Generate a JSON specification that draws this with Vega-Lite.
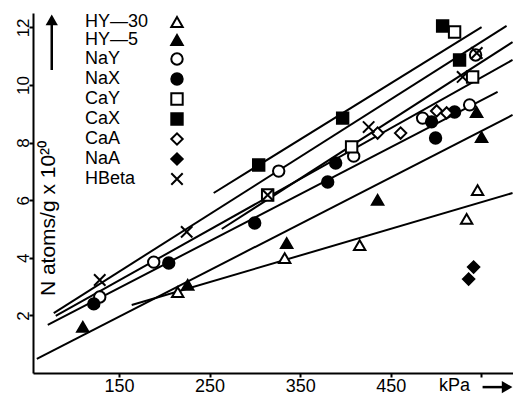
{
  "$schema": "https://vega.github.io/schema/vega-lite/v6.json",
  "width": 480,
  "height": 360,
  "autosize": {"type": "none"},
  "padding": {"left": 33, "top": 13, "right": 0, "bottom": 21},
  "config": {
    "view": {"stroke": null},
    "font": "Liberation Sans",
    "axisX": {
      "grid": false,
      "domainColor": "black",
      "domainWidth": 2,
      "tickColor": "black",
      "tickWidth": 2,
      "tickSize": 4,
      "labelFontSize": 18,
      "labelColor": "black",
      "labelPadding": 0,
      "labelFlush": false
    },
    "axisY": {
      "grid": false,
      "domainColor": "black",
      "domainWidth": 2,
      "tickColor": "black",
      "tickWidth": 2,
      "tickSize": 4,
      "labelFontSize": 17,
      "labelColor": "black",
      "labelAngle": 270,
      "labelAlign": "center",
      "labelBaseline": "alphabetic",
      "labelPadding": 1,
      "labelFlush": false,
      "titleFontSize": 21,
      "titleFontWeight": "normal",
      "titleColor": "black",
      "titleAngle": 270,
      "titleX": 15,
      "titleY": 205,
      "titleAlign": "center",
      "titleBaseline": "middle"
    },
    "legend": {
      "orient": "none",
      "legendX": 135,
      "legendY": 0,
      "title": null,
      "labelFont": "Liberation Sans",
      "labelFontSize": 18,
      "labelColor": "black",
      "labelAlign": "left",
      "labelOffset": -101,
      "symbolSize": 130,
      "symbolStrokeWidth": 2,
      "rowPadding": 0,
      "padding": 0
    }
  },
  "datasets": {
    "points": [
      {"series": "HY—30", "x": 214.8, "y": 2.81},
      {"series": "HY—30", "x": 332.9, "y": 3.99},
      {"series": "HY—30", "x": 415.7, "y": 4.44},
      {"series": "HY—30", "x": 533.8, "y": 5.35},
      {"series": "HY—30", "x": 545.9, "y": 6.35},
      {"series": "HY—5", "x": 110.0, "y": 1.6},
      {"series": "HY—5", "x": 225.8, "y": 3.06},
      {"series": "HY—5", "x": 335.1, "y": 4.51},
      {"series": "HY—5", "x": 435.5, "y": 6.01},
      {"series": "HY—5", "x": 550.3, "y": 8.19},
      {"series": "HY—5", "x": 544.8, "y": 9.06},
      {"series": "NaY", "x": 128.7, "y": 2.64},
      {"series": "NaY", "x": 188.3, "y": 3.85},
      {"series": "NaY", "x": 326.3, "y": 7.01},
      {"series": "NaY", "x": 409.1, "y": 7.53},
      {"series": "NaY", "x": 485.2, "y": 8.85},
      {"series": "NaY", "x": 537.1, "y": 9.31},
      {"series": "NaY", "x": 543.7, "y": 11.04},
      {"series": "NaX", "x": 122.1, "y": 2.4},
      {"series": "NaX", "x": 204.9, "y": 3.82},
      {"series": "NaX", "x": 299.8, "y": 5.21},
      {"series": "NaX", "x": 380.4, "y": 6.63},
      {"series": "NaX", "x": 389.2, "y": 7.29},
      {"series": "NaX", "x": 495.1, "y": 8.72},
      {"series": "NaX", "x": 499.5, "y": 8.16},
      {"series": "NaX", "x": 520.5, "y": 9.06},
      {"series": "CaY", "x": 314.1, "y": 6.18},
      {"series": "CaY", "x": 406.8, "y": 7.85},
      {"series": "CaY", "x": 520.5, "y": 11.84},
      {"series": "CaY", "x": 540.4, "y": 10.28},
      {"series": "CaX", "x": 304.2, "y": 7.22},
      {"series": "CaX", "x": 396.9, "y": 8.85},
      {"series": "CaX", "x": 507.3, "y": 12.05},
      {"series": "CaX", "x": 526.0, "y": 10.87},
      {"series": "CaA", "x": 435.5, "y": 8.33},
      {"series": "CaA", "x": 460.9, "y": 8.33},
      {"series": "CaA", "x": 500.7, "y": 9.1},
      {"series": "CaA", "x": 511.7, "y": 9.03},
      {"series": "NaA", "x": 541.5, "y": 3.68},
      {"series": "NaA", "x": 536.0, "y": 3.26},
      {"series": "HBeta", "x": 128.7, "y": 3.23},
      {"series": "HBeta", "x": 224.7, "y": 4.9},
      {"series": "HBeta", "x": 314.1, "y": 6.18},
      {"series": "HBeta", "x": 425.6, "y": 8.54},
      {"series": "HBeta", "x": 529.4, "y": 10.28},
      {"series": "HBeta", "x": 545.0, "y": 11.11}
    ],
    "lines": [
      {"line": "CaX", "x": 254.5, "y": 6.25},
      {"line": "CaX", "x": 550.3, "y": 12.01},
      {"line": "HBeta", "x": 77.9, "y": 2.08},
      {"line": "HBeta", "x": 577.9, "y": 12.05},
      {"line": "NaY", "x": 80.1, "y": 1.98},
      {"line": "NaY", "x": 584.5, "y": 10.87},
      {"line": "CaY", "x": 263.4, "y": 5.0},
      {"line": "CaY", "x": 584.5, "y": 11.49},
      {"line": "NaX", "x": 71.3, "y": 1.67},
      {"line": "NaX", "x": 568.0, "y": 9.76},
      {"line": "HY—5", "x": 59.2, "y": 0.49},
      {"line": "HY—5", "x": 584.5, "y": 8.96},
      {"line": "HY—30", "x": 164.0, "y": 2.36},
      {"line": "HY—30", "x": 584.5, "y": 6.25}
    ]
  },
  "layer": [
    {
      "data": {"name": "lines"},
      "mark": {"type": "line", "color": "black", "strokeWidth": 2},
      "encoding": {
        "x": {
          "field": "x", "type": "quantitative", "title": null,
          "scale": {"domain": [55, 585], "nice": false, "zero": false},
          "axis": {"values": [150, 250, 350, 450, 550], "labelExpr": "datum.value == 550 ? '' : datum.label"}
        },
        "y": {
          "field": "y", "type": "quantitative", "title": "N atoms/g x 10²⁰",
          "scale": {"domain": [0, 12.5], "nice": false, "zero": false},
          "axis": {"values": [2, 4, 6, 8, 10, 12]}
        },
        "detail": {"field": "line", "type": "nominal"}
      }
    },
    {
      "data": {"name": "points"},
      "mark": {"type": "point", "filled": true, "strokeWidth": 2, "size": 130, "opacity": 1},
      "encoding": {
        "x": {"field": "x", "type": "quantitative", "title": null, "axis": {"values": [150, 250, 350, 450, 550], "labelExpr": "datum.value == 550 ? '' : datum.label"}},
        "y": {"field": "y", "type": "quantitative", "title": "N atoms/g x 10²⁰", "axis": {"values": [2, 4, 6, 8, 10, 12]}},
        "shape": {
          "field": "series",
          "type": "nominal",
          "scale": {
            "domain": ["HY—30", "HY—5", "NaY", "NaX", "CaY", "CaX", "CaA", "NaA", "HBeta"],
            "range": ["triangle-up", "triangle-up", "circle", "circle", "square", "square", "diamond", "diamond", "M-1,-1L1,1M-1,1L1,-1"]
          }
        },
        "fill": {
          "field": "series",
          "type": "nominal",
          "scale": {
            "domain": ["HY—30", "HY—5", "NaY", "NaX", "CaY", "CaX", "CaA", "NaA", "HBeta"],
            "range": ["white", "black", "white", "black", "white", "black", "white", "black", "white"]
          }
        },
        "stroke": {
          "field": "series",
          "type": "nominal",
          "scale": {
            "domain": ["HY—30", "HY—5", "NaY", "NaX", "CaY", "CaX", "CaA", "NaA", "HBeta"],
            "range": ["black", "black", "black", "black", "black", "black", "black", "black", "black"]
          }
        }
      }
    },
    {
      "data": {"values": [{"a": 1}]},
      "mark": {"type": "rule", "color": "black", "strokeWidth": 2.5},
      "encoding": {
        "x": {"datum": 75.7, "type": "quantitative", "title": null, "axis": {"values": [150, 250, 350, 450, 550], "labelExpr": "datum.value == 550 ? '' : datum.label"}},
        "y": {"datum": 10.52, "type": "quantitative", "title": "N atoms/g x 10²⁰", "axis": {"values": [2, 4, 6, 8, 10, 12]}},
        "y2": {"datum": 12.1}
      }
    },
    {
      "data": {"values": [{"a": 1}]},
      "mark": {"type": "point", "shape": "triangle-up", "filled": true, "color": "black", "size": 150, "opacity": 1},
      "encoding": {
        "x": {"datum": 75.7, "type": "quantitative", "title": null, "axis": {"values": [150, 250, 350, 450, 550], "labelExpr": "datum.value == 550 ? '' : datum.label"}},
        "y": {"datum": 12.26, "type": "quantitative", "title": "N atoms/g x 10²⁰", "axis": {"values": [2, 4, 6, 8, 10, 12]}}
      }
    },
    {
      "data": {"values": [{"a": 1}]},
      "mark": {"type": "rule", "color": "black", "strokeWidth": 2.5},
      "encoding": {
        "x": {"datum": 551.4, "type": "quantitative", "title": null, "axis": {"values": [150, 250, 350, 450, 550], "labelExpr": "datum.value == 550 ? '' : datum.label"}},
        "x2": {"datum": 577},
        "y": {"datum": -0.49, "type": "quantitative", "title": "N atoms/g x 10²⁰", "axis": {"values": [2, 4, 6, 8, 10, 12]}}
      }
    },
    {
      "data": {"values": [{"a": 1}]},
      "mark": {"type": "point", "shape": "triangle-right", "filled": true, "color": "black", "size": 150, "opacity": 1},
      "encoding": {
        "x": {"datum": 578.5, "type": "quantitative", "title": null, "axis": {"values": [150, 250, 350, 450, 550], "labelExpr": "datum.value == 550 ? '' : datum.label"}},
        "y": {"datum": -0.49, "type": "quantitative", "title": "N atoms/g x 10²⁰", "axis": {"values": [2, 4, 6, 8, 10, 12]}}
      }
    },
    {
      "data": {"values": [{"a": 1}]},
      "mark": {"type": "text", "text": "kPa", "fontSize": 18, "color": "black", "align": "center", "baseline": "alphabetic"},
      "encoding": {
        "x": {"datum": 520.5, "type": "quantitative", "title": null, "axis": {"values": [150, 250, 350, 450, 550], "labelExpr": "datum.value == 550 ? '' : datum.label"}},
        "y": {"datum": -0.62, "type": "quantitative", "title": "N atoms/g x 10²⁰", "axis": {"values": [2, 4, 6, 8, 10, 12]}}
      }
    }
  ]
}
